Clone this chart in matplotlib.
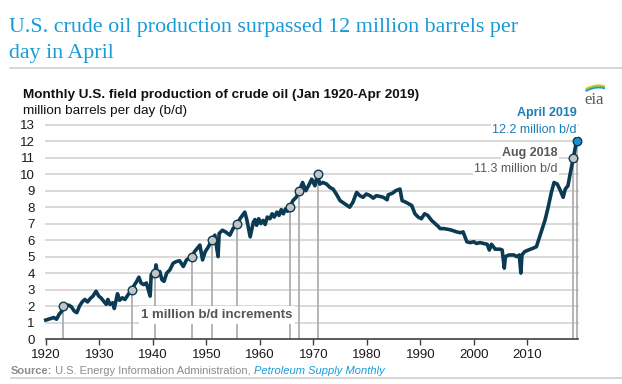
import matplotlib
matplotlib.use("Agg")
import matplotlib.pyplot as plt
import numpy as np

# ---- data ----
years = [1920.0, 1920.5, 1921.0, 1921.5, 1922.0, 1922.5, 1923.0, 1923.3, 1923.8, 1924.3,
         1924.8, 1925.3, 1925.8, 1926.3, 1926.8, 1927.3, 1927.8, 1928.3, 1928.8, 1929.4,
         1929.9, 1930.3, 1930.8, 1931.3, 1931.6, 1932.0, 1932.5, 1932.8, 1933.4, 1933.8,
         1934.3, 1934.8, 1935.4, 1936.1, 1936.6, 1937.0, 1937.4, 1937.8, 1938.3, 1938.8,
         1939.5, 1939.7, 1940.0, 1940.4, 1940.6, 1940.9, 1941.3, 1941.7, 1942.1, 1942.6,
         1943.2, 1943.8, 1944.4, 1945.0, 1945.7, 1946.3, 1947.3, 1947.8, 1948.8, 1949.3,
         1949.8, 1950.4, 1951.0, 1951.6, 1952.2, 1952.4, 1953.0, 1953.6, 1954.4, 1955.0,
         1955.8, 1956.3, 1957.2, 1957.6, 1958.2, 1958.8, 1959.1, 1959.4, 1959.8, 1960.2,
         1960.6, 1961.0, 1961.4, 1961.9, 1962.3, 1962.7, 1963.2, 1963.6, 1964.0, 1964.4,
         1964.8, 1965.2, 1965.6, 1966.2, 1966.8, 1967.4, 1968.0, 1968.6, 1969.1, 1969.7,
         1970.3, 1970.8, 1971.2, 1971.8, 1972.5, 1973.1, 1973.7, 1974.3, 1975.0, 1975.9,
         1976.8, 1977.4, 1978.1, 1978.7, 1979.3, 1979.9, 1980.6, 1981.2, 1981.8, 1982.5,
         1983.1, 1983.8, 1984.0, 1984.8, 1985.4, 1986.2, 1986.6, 1987.3, 1988.4, 1989.0,
         1989.6, 1990.2, 1990.8, 1991.4, 1992.1, 1992.8, 1993.3, 1993.7, 1994.4, 1995.3,
         1995.9, 1996.8, 1997.5, 1998.0, 1998.7, 1999.3, 2000.0, 2000.5, 2001.2, 2001.8,
         2002.5, 2002.9, 2003.3, 2004.0, 2004.9, 2005.3, 2005.7, 2005.9, 2006.6, 2007.5,
         2008.0, 2008.5, 2008.8, 2009.0, 2009.5, 2010.2, 2011.0, 2011.7, 2012.2, 2012.7,
         2013.3, 2013.9, 2014.5, 2015.0, 2015.6, 2016.2, 2016.7, 2017.1, 2017.6, 2018.0,
         2018.6, 2019.2]
production = [1.15, 1.2, 1.25, 1.3, 1.2, 1.5, 1.7, 2.0, 2.05, 2.05,
              1.95, 1.7, 1.6, 2.0, 2.25, 2.4, 2.25, 2.45, 2.6, 2.9,
              2.6, 2.5, 2.3, 2.1, 2.4, 2.1, 2.2, 1.85, 2.75, 2.35,
              2.5, 2.4, 2.7, 3.0, 3.3, 3.5, 3.75, 3.4, 3.3, 3.4,
              2.6, 3.9, 3.8, 4.0, 4.5, 3.9, 4.1, 3.6, 3.5, 4.0,
              4.2, 4.6, 4.7, 4.75, 4.4, 4.8, 5.0, 5.3, 5.7, 4.8,
              5.3, 5.6, 6.0, 6.3, 5.0, 6.4, 6.6, 6.5, 6.3, 6.7,
              7.0, 7.3, 7.7, 7.2, 6.2, 7.1, 7.25, 6.9, 7.3, 7.0,
              7.2, 6.95, 7.4, 7.3, 7.6, 7.4, 7.7, 7.5, 7.85, 7.6,
              7.9, 7.75, 8.0, 8.4, 8.6, 9.0, 9.5, 9.0, 9.3, 9.7,
              9.3, 10.0, 9.4, 9.5, 9.4, 9.2, 9.1, 8.8, 8.4, 8.2,
              8.0, 8.3, 8.9, 8.7, 8.6, 8.8, 8.7, 8.55, 8.7, 8.65,
              8.6, 8.45, 8.75, 8.85, 9.0, 9.1, 8.4, 8.3, 8.1, 7.6,
              7.4, 7.3, 7.6, 7.5, 7.2, 7.0, 6.85, 6.7, 6.7, 6.65,
              6.6, 6.5, 6.45, 6.5, 5.9, 5.85, 5.9, 5.8, 5.85, 5.8,
              5.75, 5.4, 5.75, 5.45, 5.45, 5.4, 4.3, 5.0, 5.1, 5.1,
              5.0, 5.1, 4.0, 5.1, 5.3, 5.4, 5.5, 5.6, 6.1, 6.6,
              7.2, 8.0, 8.9, 9.5, 9.4, 9.0, 8.6, 9.1, 9.3, 10.0,
              11.0, 12.0]

# 1 million b/d milestones
milestone_years = [1923.3, 1936.1, 1940.4, 1947.3, 1951.0, 1955.8, 1965.6, 1967.4, 1970.8, 2018.6, 2019.2]
milestone_values = [2, 3, 4, 5, 6, 7, 8, 9, 10, 11, 12]

x_ticks = [1920, 1930, 1940, 1950, 1960, 1970, 1980, 1990, 2000, 2010]
y_ticks = list(range(0, 14))

# ---- styling ----
plt.rcParams['font.family'] = ['Liberation Sans', 'DejaVu Sans']
W, H = 622, 384
fig = plt.figure(figsize=(W / 100, H / 100), dpi=100)

def fx(px):
    return px / W

def fy(py):
    return 1 - py / H

ax = fig.add_axes([fx(45.8), fy(339), fx(577.7 - 45.8), (339 - 124.8) / H])

line_color = '#0b3a53'
grid_color = '#d9d9d9'
blue = '#1a9bd7'

ax.set_xlim(1920, 2019.42)
ax.set_ylim(0, 13)
for v in y_ticks[1:]:
    ax.axhline(v, color=grid_color, lw=1.4, zorder=1, clip_on=False)

ax.vlines(milestone_years, 0, milestone_values, color='#a8a8a8', lw=1.2, zorder=2)
ax.plot(years, production, color=line_color, lw=2.6, zorder=5, solid_joinstyle='round',
        clip_on=False)
ax.scatter(milestone_years[:-1], milestone_values[:-1], s=38, facecolor='#c4c4c4',
           edgecolor=line_color, linewidth=1.0, zorder=6, clip_on=False)
ax.scatter(milestone_years[-1:], milestone_values[-1:], s=38, facecolor='#1a8ed0',
           edgecolor=line_color, linewidth=1.0, zorder=6, clip_on=False)

for s in ['top', 'right', 'left']:
    ax.spines[s].set_visible(False)
ax.spines['bottom'].set_color('#404040')
ax.spines['bottom'].set_linewidth(1.2)
ax.spines['bottom'].set_zorder(7)
ax.set_xticks(x_ticks)
ax.set_xticklabels([str(t) for t in x_ticks])
ax.set_yticks(y_ticks)
ax.set_yticklabels([str(t) for t in y_ticks])
ax.tick_params(axis='x', length=4, width=1.0, color='#404040', labelsize=9.5,
               labelcolor='#1a1a1a', pad=3)
ax.tick_params(axis='y', length=0, labelsize=9.5, labelcolor='#1a1a1a', pad=8)

# label for increments
ax.text(1952.0, 1.45, '1 million b/d increments', fontsize=9.5, fontweight='bold',
        color='#555555', ha='center', va='center', zorder=3,
        bbox=dict(facecolor='white', edgecolor='none', pad=2))

# annotations
fig.text(fx(577), fy(113), 'April 2019', fontsize=9, fontweight='bold', color='#1a7fb8',
         ha='right', va='center', zorder=4, bbox=dict(facecolor='white', edgecolor='none', pad=1))
fig.text(fx(577), fy(130), '12.2 million b/d', fontsize=9, color='#1a7fb8',
         ha='right', va='center', zorder=4, bbox=dict(facecolor='white', edgecolor='none', pad=1))
fig.text(fx(558), fy(153), 'Aug 2018', fontsize=9, fontweight='bold', color='#595959',
         ha='right', va='center', zorder=4, bbox=dict(facecolor='white', edgecolor='none', pad=1))
fig.text(fx(558), fy(169), '11.3 million b/d', fontsize=9, color='#595959',
         ha='right', va='center', zorder=4, bbox=dict(facecolor='white', edgecolor='none', pad=1))

# title
fig.text(fx(9), fy(32), 'U.S. crude oil production surpassed 12 million barrels per',
         family='Liberation Serif', fontsize=15.8, color=blue, ha='left', va='baseline')
fig.text(fx(9), fy(58), 'day in April',
         family='Liberation Serif', fontsize=15.8, color=blue, ha='left', va='baseline')
fig.add_artist(plt.Line2D([fx(10), fx(622)], [fy(68), fy(68)], color='#d0d0d0', lw=1.2))

# subtitle
fig.text(fx(23), fy(98), 'Monthly U.S. field production of crude oil (Jan 1920-Apr 2019)',
         fontsize=9.7, fontweight='bold', color='#111111', ha='left', va='baseline')
fig.text(fx(23), fy(114), 'million barrels per day (b/d)',
         fontsize=9.7, color='#111111', ha='left', va='baseline')

# source
t1 = fig.text(fx(11), fy(374), 'Source:', fontsize=8, fontweight='bold', color='#8c8c8c',
              ha='left', va='baseline')
a2 = fig.add_artist(matplotlib.text.Annotation(' U.S. Energy Information Administration, ',
                    xy=(1, 0), xycoords=t1, va='bottom', ha='left', fontsize=8, color='#8c8c8c'))
a3 = fig.add_artist(matplotlib.text.Annotation('Petroleum Supply Monthly',
                    xy=(1, 0), xycoords=a2, va='bottom', ha='left', fontsize=8,
                    color=blue, style='italic'))
fig.add_artist(plt.Line2D([fx(11), fx(622)], [fy(378), fy(378)], color='#d0d0d0', lw=1.2))

# eia logo
fig.text(fx(594), fy(104), 'eia', family='Liberation Serif', fontsize=12, color='#4f5b66',
         ha='center', va='baseline')
lax = fig.add_axes([fx(583), fy(92), fx(22), 8 / H])
lax.set_xlim(0, 1)
lax.set_ylim(0, 1)
lax.axis('off')
tt = np.linspace(0.15, 1.0, 30)
lax.plot(tt, 0.25 + 0.6 * np.sin(tt * 2.2), color='#f2c81a', lw=1.2)
lax.plot(tt, 0.10 + 0.6 * np.sin(tt * 2.2), color='#8dc63f', lw=1.2)
lax.plot(tt, -0.05 + 0.6 * np.sin(tt * 2.2), color='#1a9bd7', lw=1.2)

fig.savefig('out.png', dpi=100)
